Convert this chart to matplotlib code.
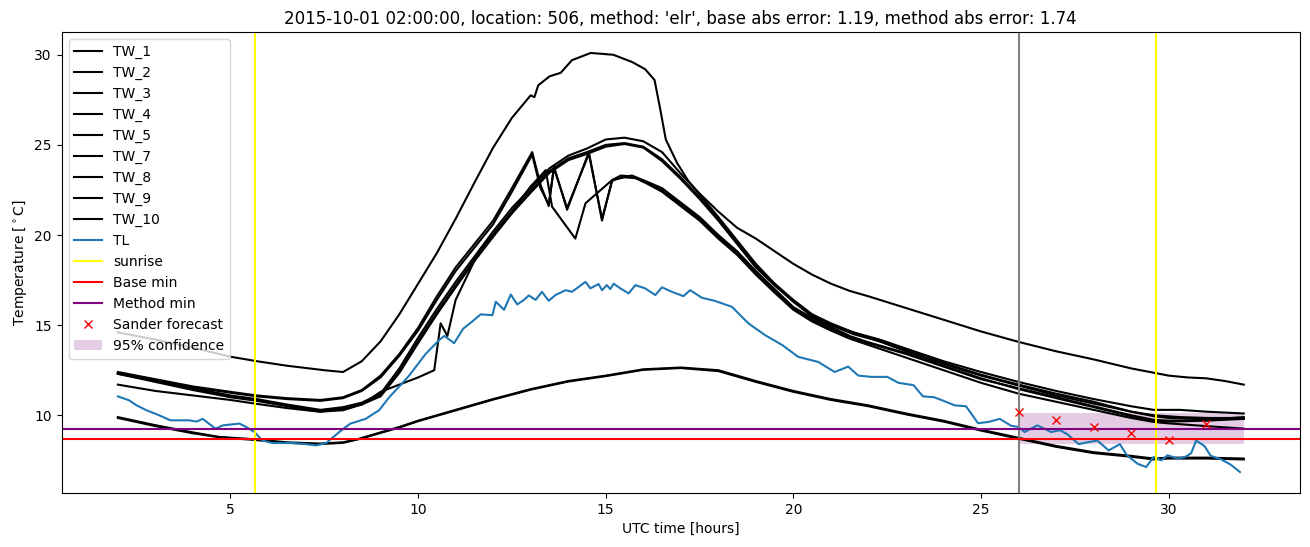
import matplotlib
matplotlib.use("Agg")
import matplotlib.pyplot as plt

# ---------------- data ----------------
tw1_t = [2, 3, 4, 5, 5.7, 6.5, 7.5, 8.0, 8.5, 9.0, 9.5, 10.0, 10.5, 11.0, 11.5, 12.0, 12.5, 13.0, 13.1, 13.2,
         13.5, 13.8, 14.1, 14.6, 15.2, 15.7, 16.05, 16.3, 16.45, 16.6, 16.9, 17.2, 17.6, 18.0, 18.5, 19.0, 19.5,
         20.0, 20.5, 21.0, 21.6, 22.3, 23, 24, 25, 26, 27, 28, 29, 29.6, 30, 31, 32]
tw1_v = [14.6, 14.2, 13.75, 13.25, 13.0, 12.75, 12.5, 12.4, 13.0, 14.1, 15.6, 17.3, 19.0, 20.9, 22.9, 24.85, 26.5,
         27.75, 27.65, 28.3, 28.8, 29.0, 29.7, 30.1, 30.0, 29.6, 29.2, 28.6, 27.0, 25.3, 24.0, 23.0, 22.0, 21.0,
         19.7, 18.4, 17.3, 16.3, 15.5, 15.0, 14.6, 14.1, 13.6, 12.9, 12.25, 11.7, 11.2, 10.75, 10.2, 9.95, 9.85,
         9.85, 9.8]

tw2_t = [2, 3, 4, 5, 5.7, 6.5, 7.4, 8.0, 8.5, 9.0, 9.5, 10.0, 10.5, 11.0, 11.5, 12.0, 12.5, 13.0, 13.5, 14.0,
         14.5, 15.0, 15.5, 16.0, 16.5, 17.0, 17.5, 18.0, 18.5, 19.0, 19.5, 20.0, 20.5, 21.0, 21.5, 22.0, 23, 24,
         25, 26, 27, 28, 29, 30, 30.5, 31, 31.5, 32]
tw2_v = [12.35, 11.95, 11.5, 11.1, 10.9, 10.6, 10.3, 10.45, 10.7, 11.2, 12.6, 14.3, 15.9, 17.4, 18.8, 20.2, 21.5,
         22.6, 23.7, 24.4, 24.8, 25.3, 25.4, 25.2, 24.6, 23.4, 22.3, 21.3, 20.4, 19.8, 19.1, 18.4, 17.8, 17.3,
         16.9, 16.6, 15.95, 15.3, 14.65, 14.07, 13.55, 13.1, 12.6, 12.2, 12.1, 12.05, 11.9, 11.7]

tw3_t = [2, 3, 4, 5, 5.7, 6.5, 7.4, 8.0, 8.5, 9.0, 9.5, 10.0, 10.5, 11.0, 11.5, 12.0, 12.5, 13.0, 13.5, 14.0,
         14.5, 15.0, 15.5, 16.0, 16.5, 17.0, 17.5, 18.0, 18.5, 19.0, 19.5, 20.0, 20.5, 21.0, 21.6, 22.3, 23, 24,
         25, 26, 27, 28, 29, 29.6, 30.3, 31, 32]
tw3_v = [12.3, 11.9, 11.45, 11.05, 10.85, 10.55, 10.25, 10.4, 10.65, 11.1, 12.45, 14.1, 15.7, 17.2, 18.65, 20.0,
         21.3, 22.45, 23.55, 24.25, 24.6, 25.0, 25.1, 24.9, 24.2, 23.2, 22.1, 20.9, 19.6, 18.3, 17.3, 16.4, 15.6,
         15.1, 14.6, 14.2, 13.7, 13.0, 12.4, 11.85, 11.35, 10.9, 10.5, 10.3, 10.3, 10.2, 10.1]

tw4_t = [2, 3, 4, 5, 5.7, 6.5, 7.4, 8.0, 8.5, 9.0, 9.5, 10.0, 10.5, 11.0, 11.5, 12.0, 12.5, 13.04, 13.26, 13.48,
         13.62, 13.97, 14.55, 14.9, 15.17, 15.4, 15.7, 16.05, 16.5, 17.0, 17.5, 18.0, 18.5, 19.0, 19.5, 20.0,
         20.5, 21.0, 21.5, 22.0, 23, 24, 25, 26, 27, 28, 29, 29.6, 30, 31, 32]
tw4_v = [12.4, 12.0, 11.6, 11.3, 11.1, 10.95, 10.85, 11.0, 11.4, 12.2, 13.4, 14.85, 16.6, 18.2, 19.5, 20.8, 22.6,
         24.6, 22.8, 21.6, 23.8, 21.4, 24.6, 20.8, 23.05, 23.3, 23.25, 22.95, 22.5, 21.7, 20.9, 19.9, 19.0, 17.9,
         16.9, 15.9, 15.3, 14.8, 14.35, 14.0, 13.4, 12.7, 12.0, 11.5, 11.0, 10.5, 10.0, 9.75, 9.7, 9.75, 9.9]

tw5_t = tw4_t
tw5_v = [12.35, 11.95, 11.55, 11.25, 11.05, 10.9, 10.8, 10.95, 11.35, 12.1, 13.3, 14.7, 16.4, 18.0, 19.3, 20.6,
         22.4, 24.45, 22.6, 21.7, 23.7, 21.5, 24.5, 20.9, 23.0, 23.2, 23.3, 23.0, 22.6, 21.8, 21.0, 20.0, 19.1,
         18.0, 17.0, 16.0, 15.4, 14.9, 14.4, 14.05, 13.45, 12.75, 12.05, 11.45, 10.95, 10.45, 9.95, 9.7, 9.65,
         9.7, 9.8]

tw7_t = [2, 3, 4, 5, 5.64, 6.5, 7.37, 8.0, 8.5, 9.0, 9.5, 10.0, 10.43, 10.6, 10.78, 11.0, 11.6, 12.5, 13.0, 13.4,
         13.57, 14.19, 14.46, 15.17, 15.5, 15.8, 16.1, 16.5, 17.0, 17.5, 18.0, 18.5, 19.0, 19.5, 20.0, 20.5, 21.0,
         21.5, 22.0, 23, 24, 25, 26, 27, 28, 29, 29.6, 30, 31, 32]
tw7_v = [11.7, 11.35, 11.1, 10.85, 10.65, 10.4, 10.2, 10.28, 10.6, 11.3, 11.7, 12.1, 12.5, 15.1, 14.4, 16.4, 19.0,
         21.3, 22.7, 23.6, 21.57, 19.8, 21.76, 23.05, 23.2, 23.15, 22.85, 22.4, 21.6, 20.8, 19.8, 18.9, 17.8,
         16.8, 15.85, 15.2, 14.7, 14.25, 13.9, 13.2, 12.5, 11.8, 11.2, 10.75, 10.3, 9.85, 9.63, 9.55, 9.4, 9.26]

tw8_t = tw3_t
tw8_v = [12.3, 11.85, 11.4, 11.0, 10.8, 10.5, 10.2, 10.35, 10.6, 11.05, 12.35, 14.0, 15.6, 17.1, 18.55, 19.9,
         21.2, 22.35, 23.45, 24.15, 24.5, 24.9, 25.05, 24.85, 24.1, 23.1, 22.0, 20.8, 19.5, 18.2, 17.2, 16.3,
         15.5, 15.0, 14.5, 14.1, 13.55, 12.85, 12.2, 11.65, 11.1, 10.65, 10.2, 10.0, 9.9, 9.85, 9.85]

tw9_t = [2, 3, 4, 4.7, 5.64, 6.5, 7.37, 8.0, 8.43, 9.0, 9.5, 10.0, 11.0, 12.0, 13.0, 14.0, 15.0, 16.0, 17.0, 18.0,
         19.0, 20.0, 21.0, 22.0, 23.0, 24.0, 25.0, 26.0, 27.0, 28.0, 29.0, 29.6, 30.0, 31.0, 32.0]
tw9_v = [9.9, 9.45, 9.05, 8.8, 8.67, 8.5, 8.43, 8.5, 8.7, 9.05, 9.35, 9.7, 10.3, 10.9, 11.45, 11.9, 12.2, 12.55,
         12.65, 12.5, 11.9, 11.35, 10.9, 10.55, 10.1, 9.7, 9.2, 8.75, 8.3, 7.95, 7.75, 7.6, 7.65, 7.65, 7.6]

tw10_t = tw9_t
tw10_v = [9.85, 9.4, 9.0, 8.78, 8.63, 8.47, 8.4, 8.47, 8.68, 9.02, 9.32, 9.67, 10.27, 10.87, 11.42, 11.87, 12.17,
          12.52, 12.62, 12.45, 11.85, 11.3, 10.85, 10.5, 10.05, 9.65, 9.15, 8.7, 8.25, 7.9, 7.7, 7.55, 7.6, 7.6,
          7.55]

tl_t = [2.0, 2.3, 2.5, 2.76, 3.1, 3.4, 3.9, 4.1, 4.26, 4.6, 4.8, 5.24, 5.42, 5.64, 5.85, 6.12, 6.65, 7.0, 7.28,
        7.55, 7.9, 8.07, 8.2, 8.6, 8.96, 9.23, 9.5, 9.76, 10.2, 10.56, 10.7, 10.96, 11.2, 11.44, 11.67, 11.98,
        12.07, 12.29, 12.47, 12.64, 12.82, 12.95, 13.13, 13.3, 13.48, 13.66, 13.93, 14.1, 14.46, 14.59, 14.81,
        14.9, 15.03, 15.12, 15.21, 15.39, 15.61, 15.79, 16.05, 16.32, 16.5, 16.76, 17.07, 17.25, 17.56, 17.9,
        18.36, 18.8, 19.25, 19.7, 20.13, 20.66, 21.1, 21.46, 21.73, 22.08, 22.5, 22.8, 23.2, 23.45, 23.75, 24.0,
        24.3, 24.6, 24.92, 25.2, 25.5, 25.8, 26.0, 26.16, 26.5, 26.87, 27.1, 27.3, 27.6, 27.83, 28.1, 28.4, 28.7,
        28.88, 29.17, 29.4, 29.6, 29.8, 29.97, 30.24, 30.45, 30.6, 30.73, 30.95, 31.12, 31.4, 31.66, 31.9]
tl_v = [11.05, 10.83, 10.55, 10.28, 10.0, 9.72, 9.72, 9.65, 9.8, 9.26, 9.44, 9.54, 9.35, 9.07, 8.6, 8.46, 8.46,
        8.4, 8.33, 8.46, 9.07, 9.35, 9.54, 9.8, 10.28, 11.0, 11.6, 12.2, 13.4, 14.17, 14.4, 14.0, 14.8, 15.2,
        15.6, 15.55, 16.3, 15.85, 16.7, 16.15, 16.4, 16.65, 16.4, 16.85, 16.35, 16.67, 16.94, 16.85, 17.4, 17.04,
        17.28, 16.94, 17.22, 17.0, 17.3, 17.04, 16.76, 17.22, 17.04, 16.67, 17.1, 16.85, 16.61, 16.94, 16.52,
        16.35, 16.02, 15.1, 14.44, 13.9, 13.24, 12.96, 12.4, 12.7, 12.2, 12.13, 12.13, 11.8, 11.67, 11.05, 11.0,
        10.8, 10.55, 10.5, 9.56, 9.63, 9.8, 9.42, 9.35, 9.07, 9.44, 9.07, 9.17, 8.95, 8.4, 8.5, 8.6, 8.05, 8.4,
        7.8, 7.31, 7.13, 7.69, 7.5, 7.78, 7.6, 7.7, 7.9, 8.6, 8.3, 7.75, 7.55, 7.25, 6.85]

tw_series = [("TW_1", tw1_t, tw1_v), ("TW_2", tw2_t, tw2_v), ("TW_3", tw3_t, tw3_v),
             ("TW_4", tw4_t, tw4_v), ("TW_5", tw5_t, tw5_v), ("TW_7", tw7_t, tw7_v),
             ("TW_8", tw8_t, tw8_v), ("TW_9", tw9_t, tw9_v), ("TW_10", tw10_t, tw10_v)]

sunrise_hours = [5.66, 29.65]
forecast_time = 26.0
base_min = 8.67
method_min = 9.22
sander_hours = [26, 27, 28, 29, 30, 31]
sander_temp = [10.2, 9.75, 9.35, 9.0, 8.65, 9.5]
conf_hours = [26, 32]
conf_low = [8.43, 8.43]
conf_high = [10.13, 10.13]

title = ("2015-10-01 02:00:00, location: 506, method: 'elr', "
         "base abs error: 1.19, method abs error: 1.74")

# ---------------- plot ----------------
fig, ax = plt.subplots(figsize=(13.1, 5.47), dpi=100)
fig.subplots_adjust(left=0.047, right=0.9924, top=0.9415, bottom=0.0987)

for name, t, v in tw_series:
    ax.plot(t, v, color="black", label=name)
ax.plot(tl_t, tl_v, color="C0", label="TL")
ax.axvline(sunrise_hours[0], color="yellow", label="sunrise")
ax.axvline(sunrise_hours[1], color="yellow")
ax.axvline(forecast_time, color="gray")
ax.axhline(base_min, color="red", label="Base min")
ax.axhline(method_min, color="purple", label="Method min")
ax.plot(sander_hours, sander_temp, "rx", label="Sander forecast")
ax.fill_between(conf_hours, conf_low, conf_high, color="purple", alpha=0.2,
                linewidth=0, label="95% confidence")

ax.set_title(title)
ax.set_xlabel("UTC time [hours]")
ax.set_ylabel(r"Temperature [$^\circ$C]")
ax.legend(loc="upper left")

fig.savefig("out.png", dpi=100)
